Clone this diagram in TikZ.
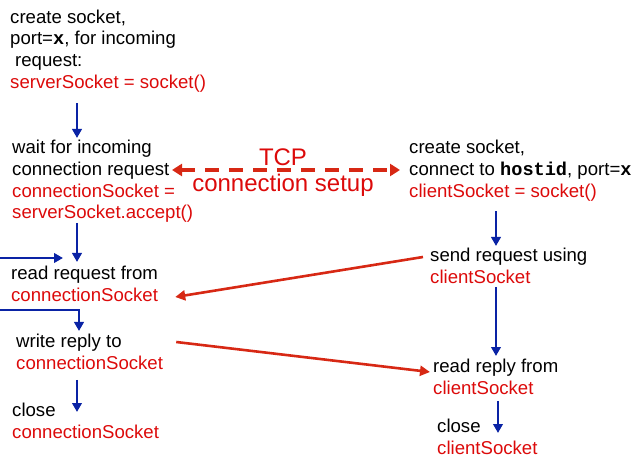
\documentclass[tikz,border=0pt]{standalone}
\usepackage{fontspec}
\setmainfont{Liberation Sans}
\newfontfamily\codefont{Liberation Mono}
\definecolor{sockred}{RGB}{220, 10, 10}
\definecolor{linkred}{RGB}{215, 40, 20}
\definecolor{flowblue}{RGB}{10, 35, 165}
\newcommand{\socktxt}[1]{\textcolor{sockred}{#1}}
\newcommand{\codetxt}[1]{\textbf{\codefont #1}}
\usetikzlibrary{positioning,arrows.meta,calc}

\begin{document}
\begin{tikzpicture}[x=1pt,y=-1pt,
    stepnote/.style={anchor=north west,inner sep=0pt,align=left,font=\fontsize{18.6}{21.7}\selectfont},
    flow/.style={-{Triangle[length=9pt,width=9.5pt]},line width=2.7pt,flowblue},
    msg/.style={-{Triangle[length=10pt,width=10pt]},line width=2.6pt,linkred},
    setup/.style={{Triangle[length=10pt,width=12pt]}-{Triangle[length=10pt,width=12pt]},line width=3.8pt,linkred,dash pattern=on 14pt off 10pt}]
    \useasboundingbox (0,0) rectangle (635,457);

    % server side
    \node[stepnote] (create) at (10,9.5) {create socket,\\port=\codetxt{x}, for incoming\\\hspace{5pt}request:\\\socktxt{serverSocket = socket()}};
    \node[stepnote] (wait) at (12,140) {wait for incoming\\connection request\\\socktxt{connectionSocket =}\\\socktxt{serverSocket.accept()}};
    \node[stepnote] (readreq) at (11,266) {read request from\\\socktxt{connectionSocket}};
    \node[stepnote] (writerep) at (16,334) {write reply to\\\socktxt{connectionSocket}};
    \node[stepnote] (srvclose) at (12,403) {close\\\socktxt{connectionSocket}};

    % client side
    \node[stepnote] (connect) at (409,140) {create socket,\\connect to \codetxt{hostid}, port=\codetxt{x}\\\socktxt{clientSocket = socket()}};
    \node[stepnote] (sendreq) at (430,248) {send request using\\\socktxt{clientSocket}};
    \node[stepnote] (readrep) at (433,359) {read reply from\\\socktxt{clientSocket}};
    \node[stepnote] (cliclose) at (437,419) {close\\\socktxt{clientSocket}};

    \coordinate (srvx) at (77,0);
    \coordinate (loopx) at (79,0);
    \coordinate (clix) at (496,0);
    \coordinate (clix2) at (498,0);
    \coordinate (backin) at (0,258);
    \coordinate (backout) at (0,310);

    % blue flow arrows
    \draw[flow] ($(create.south -| srvx)+(0,11)$) -- ($(wait.north -| srvx)+(0,-2)$);
    \draw[flow] ($(wait.south -| srvx)+(0,0)$) -- ($(readreq.north -| srvx)+(0,-4)$);
    \draw[flow] (backin) -- ($(srvx |- backin)+(-14,0)$);
    \draw[flow] (backout) -| ($(writerep.north -| loopx)+(0,-3)$);
    \draw[flow] ($(writerep.south -| srvx)+(0,10)$) -- ($(srvclose.north -| srvx)+(0,9)$);
    \draw[flow] ($(connect.south -| clix)+(0,10)$) -- ($(sendreq.north -| clix)+(0,-2)$);
    \draw[flow] ($(sendreq.south -| clix)+(0,3)$) -- ($(readrep.north -| clix)+(0,-3)$);
    \draw[flow] ($(readrep.south -| clix2)+(0,6)$) -- ($(cliclose.north -| clix2)+(0,14)$);

    % red messages
    \draw[setup] ($(wait.north west)+(160,30)$) -- ($(connect.north west)+(-9,30)$);
    \node[align=center,inner sep=0pt,anchor=north,text=sockred,font=\fontsize{24}{26.5}\selectfont] (tcplbl) at (283,148.5) {TCP\\connection setup};
    \draw[msg] ($(sendreq.north west)+(-7,9)$) -- ($(readreq.north east)+(17,31)$);
    \draw[msg] ($(writerep.north east)+(13,8)$) -- ($(readrep.north west)+(-3,13)$);
\end{tikzpicture}
\end{document}
